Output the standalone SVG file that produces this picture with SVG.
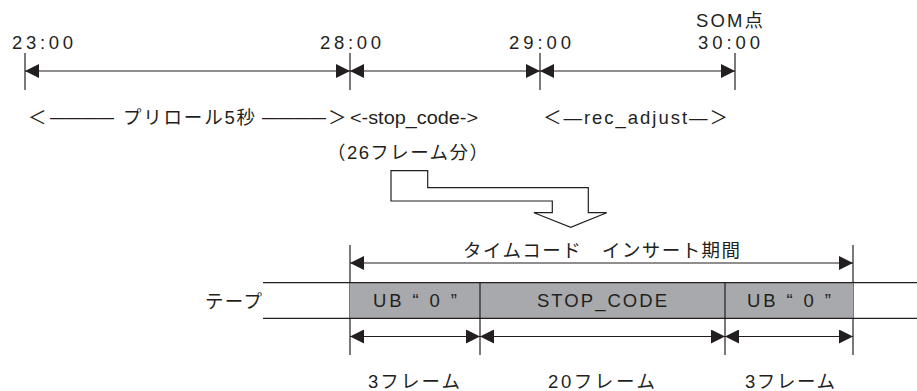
<svg xmlns="http://www.w3.org/2000/svg" width="917" height="391" viewBox="0 0 917 391">
<defs>
<style>
.ln{stroke:#231f20;stroke-width:1.2;fill:none}
.t{font-family:"Liberation Sans","Noto Sans CJK JP",sans-serif;font-size:18.5px;fill:#231f20}
.d{font-size:16px}
.ah{fill:#231f20}
</style>
<marker id="aS" markerWidth="14" markerHeight="14" refX="0" refY="7" orient="auto" markerUnits="userSpaceOnUse">
<path d="M0,7 L14,0 L14,14 Z" class="ah"/>
</marker>
<marker id="aE" markerWidth="14" markerHeight="14" refX="14" refY="7" orient="auto" markerUnits="userSpaceOnUse">
<path d="M0,0 L14,7 L0,14 Z" class="ah"/>
</marker>
</defs>
<rect width="917" height="391" fill="#fff"/>

<g id="timeline-labels">
<text class="t" x="12" y="49" textLength="61" lengthAdjust="spacing">23:00</text>
<text class="t" x="320" y="49" textLength="61" lengthAdjust="spacing">28:00</text>
<text class="t" x="509" y="49" textLength="62" lengthAdjust="spacing">29:00</text>
<text class="t" x="698" y="49" textLength="62" lengthAdjust="spacing">30:00</text>
<text class="t" x="696" y="27" textLength="67" lengthAdjust="spacing">SOM点</text>
</g>

<g id="timeline-ticks">
<line class="ln" x1="25" y1="53" x2="25" y2="90"/>
<line class="ln" x1="350" y1="53" x2="350" y2="90"/>
<line class="ln" x1="540" y1="53" x2="540" y2="90"/>
<line class="ln" x1="735" y1="53" x2="735" y2="90"/>
</g>

<g id="connectors">
<line class="ln" x1="25" y1="71" x2="350" y2="71" marker-start="url(#aS)" marker-end="url(#aE)"/>
<line class="ln" x1="350" y1="71" x2="540" y2="71" marker-start="url(#aS)" marker-end="url(#aE)"/>
<line class="ln" x1="540" y1="71" x2="735" y2="71" marker-start="url(#aS)" marker-end="url(#aE)"/>
<line class="ln" x1="350" y1="263" x2="853" y2="263" marker-start="url(#aS)" marker-end="url(#aE)"/>
<line class="ln" x1="350" y1="336.5" x2="480" y2="336.5" marker-start="url(#aS)" marker-end="url(#aE)"/>
<line class="ln" x1="480" y1="336.5" x2="725" y2="336.5" marker-start="url(#aS)" marker-end="url(#aE)"/>
<line class="ln" x1="725" y1="336.5" x2="853" y2="336.5" marker-start="url(#aS)" marker-end="url(#aE)"/>
</g>

<g id="span-labels">
<text class="t" x="28" y="124">＜</text>
<text class="t d" x="50" y="123">――――</text>
<text class="t" x="123" y="124" textLength="132" lengthAdjust="spacing">プリロール5秒</text>
<text class="t d" x="262" y="123">――――</text>
<text class="t" x="328" y="124">＞</text>
<text class="t" x="350" y="124" textLength="128" lengthAdjust="spacingAndGlyphs">&lt;-stop_code-&gt;</text>
<text class="t" x="543" y="124" textLength="185" lengthAdjust="spacing">＜―rec_adjust―＞</text>
<text class="t" x="327" y="159" textLength="161" lengthAdjust="spacing">（26フレーム分）</text>
</g>

<g id="bent-arrow">
<path d="M391,170.7 L427.7,170.7 L427.7,187.7 L588.3,187.7 L588.3,212.7 L606.7,212.7 L570.7,227.3 L534,212.7 L552.3,212.7 L552.3,201 L391,201 Z" fill="#fff" stroke="#231f20" stroke-width="1.2"/>
</g>

<g id="insert-period">
<line class="ln" x1="350" y1="245" x2="350" y2="355"/>
<line class="ln" x1="853" y1="245" x2="853" y2="355"/>
<text class="t" x="463" y="257" textLength="277" lengthAdjust="spacing">タイムコード　インサート期間</text>
</g>

<g id="tape">
<rect x="350" y="282.7" width="503" height="35.6" fill="#a7a9ac"/>
<line class="ln" x1="263" y1="282.7" x2="917" y2="282.7" stroke-width="1.4"/>
<line class="ln" x1="263" y1="318.3" x2="917" y2="318.3" stroke-width="1.4"/>
<text class="t" x="205" y="308" textLength="57" lengthAdjust="spacing">テープ</text>
</g>

<g id="cell-ub1">
<text class="t" x="373" y="307" textLength="84" lengthAdjust="spacing">UB “ 0 ”</text>
</g>
<g id="cell-stop">
<line class="ln" x1="480" y1="282.7" x2="480" y2="355"/>
<text class="t" x="537" y="307" textLength="130" lengthAdjust="spacing">STOP_CODE</text>
</g>
<g id="cell-ub2">
<line class="ln" x1="725" y1="282.7" x2="725" y2="355"/>
<text class="t" x="747" y="307" textLength="84" lengthAdjust="spacing">UB “ 0 ”</text>
</g>

<g id="frame-labels">
<text class="t" x="368" y="388" textLength="92" lengthAdjust="spacing">3フレーム</text>
<text class="t" x="548" y="388" textLength="107" lengthAdjust="spacing">20フレーム</text>
<text class="t" x="745" y="388" textLength="90" lengthAdjust="spacing">3フレーム</text>
</g>
</svg>
